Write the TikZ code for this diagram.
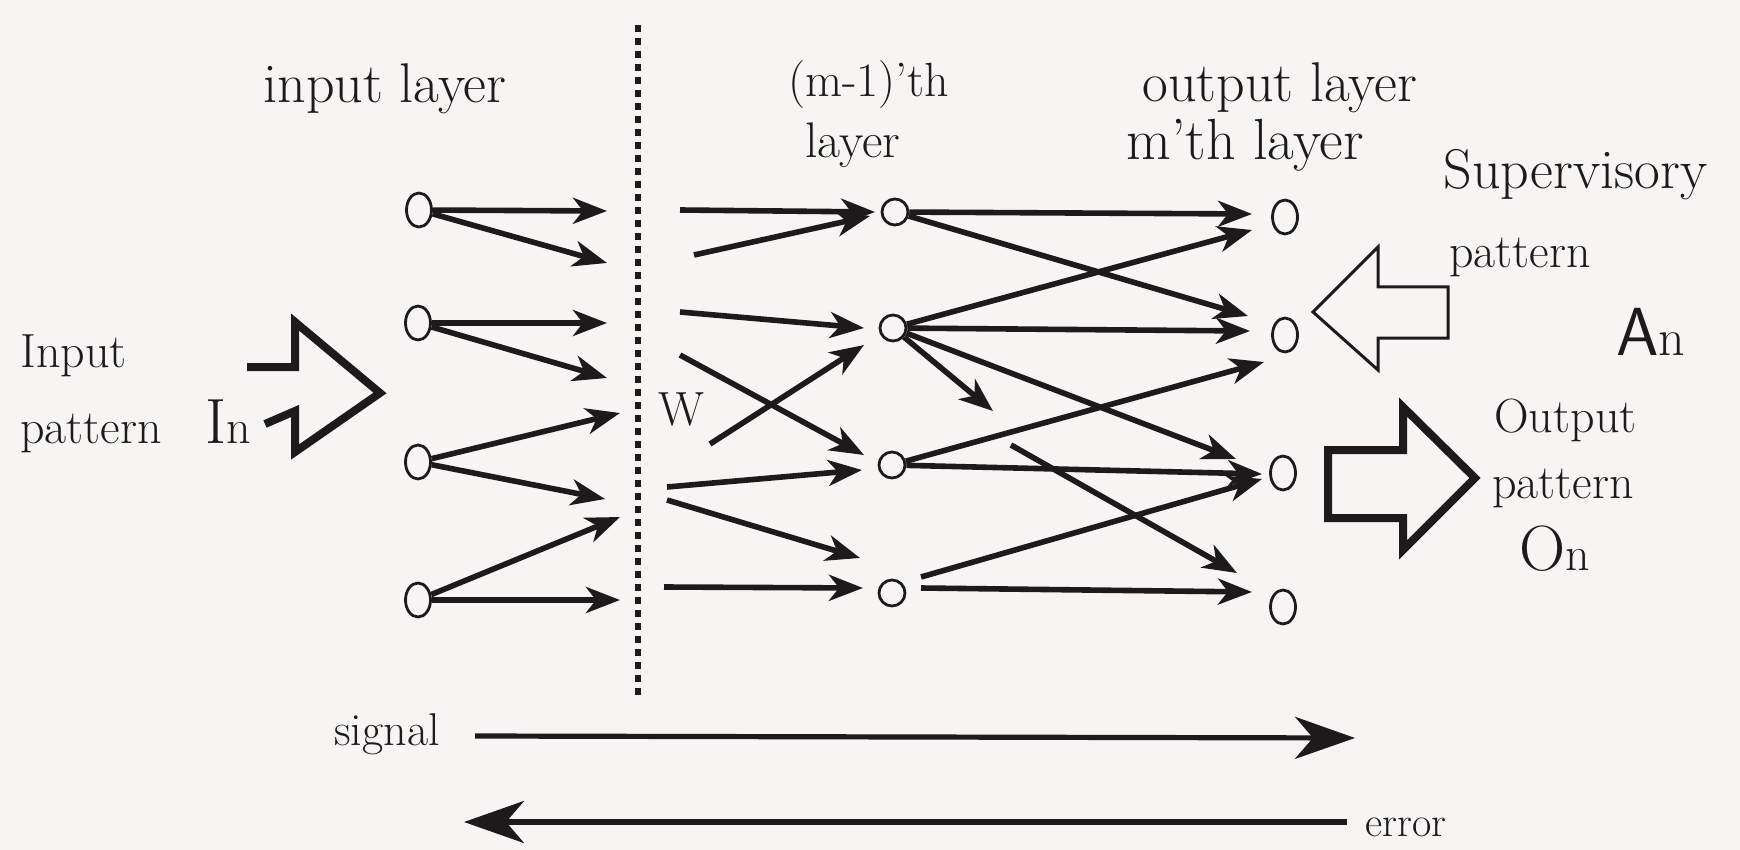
\documentclass[tikz,border=0pt]{standalone}
\usepackage{fontspec}
\usetikzlibrary{arrows.meta,shapes.geometric}
\definecolor{bg}{RGB}{248,244,244}
\definecolor{ink}{RGB}{30,26,28}
\tikzset{
  lbl/.style={inner sep=0pt, anchor=base west, text=ink, font=\fontsize{24}{29}\selectfont},
  big/.style={font=\fontsize{28}{32}\selectfont},
  inode/.style={ellipse, draw=ink, line width=1.4pt, fill=bg, minimum width=12.5pt, minimum height=17pt, inner sep=0pt},
  hnode/.style={circle, draw=ink, line width=1.4pt, fill=bg, minimum size=13pt, inner sep=0pt},
  conn/.style={draw=ink, line width=2.8pt, -{Stealth[length=17pt,width=13pt,inset=5pt]}},
  bigarr/.style={draw=ink, line width=2.6pt, -{Stealth[length=30pt,width=21pt,inset=9pt]}},
  hollowthick/.style={draw=ink, line width=4pt, line join=miter, fill=bg},
  hollowthin/.style={draw=ink, line width=1.5pt, line join=miter, fill=bg},
  dotline/.style={draw=ink, line width=3pt, dash pattern=on 3.5pt off 3pt}
}
\begin{document}
\begin{tikzpicture}[x=0.5pt,y=-0.5pt]
\fill[bg] (0,0) rectangle (1740,850);
\useasboundingbox (0,0) rectangle (1740,850);

% dotted separator
\coordinate (dtop) at (638,25);
\coordinate (dbot) at (638,695);
\draw[dotline] (dtop) -- (dbot);

% nodes
\node[inode] (i1) at (419,210) {};
\node[inode] (i2) at (418,323) {};
\node[inode] (i3) at (418,462) {};
\node[inode] (i4) at (418,600) {};
\node[hnode] (h1) at (895,212) {};
\node[hnode] (h2) at (893,328) {};
\node[hnode] (h3) at (892,465) {};
\node[hnode] (h4) at (892,593) {};
\node[inode] (o1) at (1285,217) {};
\node[inode] (o2) at (1285,335) {};
\node[inode] (o3) at (1283,473) {};
\node[inode] (o4) at (1283,607) {};

% labels
\node[lbl,big] (tIL) at (263,103) {input layer};
\node[lbl] (tM1) at (788,97) {(m-1)'th};
\node[lbl,font=\fontsize{25}{29}\selectfont] (tM2) at (805,158) {layer};
\node[lbl,big] (tO1) at (1142,102) {output layer};
\node[lbl,font=\fontsize{29}{32}\selectfont] (tO2) at (1126,160) {m'th layer};
\node[lbl,font=\fontsize{28}{32}\selectfont] (tS1) at (1443,189) {\addfontfeatures{LetterSpace=15}Supervisory};
\node[lbl] (tS2) at (1449,268) {pattern};
\node[lbl] (tA) at (1616,356) {{\sffamily\fontsize{34}{34}\selectfont A}{\fontsize{26}{26}\selectfont n}};
\node[lbl] (tP1) at (1494,432) {Output};
\node[lbl] (tP2) at (1492,498) {pattern};
\node[lbl] (tOn) at (1519,570) {{\fontsize{32}{32}\selectfont O}n};
\node[lbl] (tI1) at (20,367) {Input};
\node[lbl] (tI2) at (20,443) {pattern};
\node[lbl] (tIn) at (205,443) {{\fontsize{32}{32}\selectfont I}n};
\node[lbl] (tW) at (658,425) {W};
\node[lbl,font=\fontsize{23}{28}\selectfont] (tsig) at (334,745) {signal};
\node[lbl,font=\fontsize{21}{26}\selectfont] (terr) at (1365,836) {error};

% input pattern arrow
\draw[draw=ink, line width=4pt, line join=miter]
  (247,367) -- (295,367) -- (295,322) -- (380,393) -- (295,452) -- (295,411) -- (265,424);
% supervisory pattern arrow
\draw[hollowthin] (1313,312) -- (1378,247) -- (1378,287) -- (1448,287) -- (1448,338) -- (1378,338) -- (1378,370) -- cycle;
% output pattern arrow
\draw[hollowthick] (1328,450) -- (1403,450) -- (1403,407) -- (1475,478) -- (1403,550) -- (1403,518) -- (1328,518) -- cycle;

% input layer connectors
\coordinate (ta1) at (607,211);
\coordinate (ta2) at (607,263);
\coordinate (tb1) at (607,323);
\coordinate (tb2) at (607,378);
\coordinate (tc1) at (620,413);
\coordinate (tc2) at (605,499);
\coordinate (td1) at (620,517);
\coordinate (td2) at (620,600);
\draw[conn] (i1) -- (ta1);
\draw[conn] (i1) -- (ta2);
\draw[conn] (i2) -- (tb1);
\draw[conn] (i2) -- (tb2);
\draw[conn] (i3) -- (tc1);
\draw[conn] (i3) -- (tc2);
\draw[conn] (i4) -- (td1);
\draw[conn] (i4) -- (td2);

% connectors into (m-1)'th layer
\coordinate (s1a) at (680,210); \coordinate (s1b) at (875,212);
\coordinate (s2a) at (694,255); \coordinate (s2b) at (870,216);
\coordinate (s3a) at (680,312); \coordinate (s3b) at (864,328);
\coordinate (s4a) at (680,355); \coordinate (s4b) at (864,455);
\coordinate (s5a) at (710,444); \coordinate (s5b) at (864,345);
\coordinate (s6a) at (667,487); \coordinate (s6b) at (862,470);
\coordinate (s7a) at (667,500); \coordinate (s7b) at (860,558);
\coordinate (s8a) at (664,587); \coordinate (s8b) at (863,588);
\draw[conn] (s1a) -- (s1b);
\draw[conn] (s2a) -- (s2b);
\draw[conn] (s3a) -- (s3b);
\draw[conn] (s4a) -- (s4b);
\draw[conn] (s5a) -- (s5b);
\draw[conn] (s6a) -- (s6b);
\draw[conn] (s7a) -- (s7b);
\draw[conn] (s8a) -- (s8b);

% connectors into output layer
\coordinate (u1) at (1252,214);
\coordinate (u2) at (1248,316);
\coordinate (u3) at (1252,230);
\coordinate (u4) at (1250,331);
\coordinate (u5) at (993,411);
\coordinate (u6) at (1236,459);
\coordinate (u7) at (1264,362);
\coordinate (u8) at (1262,474);
\coordinate (v1) at (921,577); \coordinate (u9) at (1262,479);
\coordinate (v2) at (921,588); \coordinate (u10) at (1252,592);
\coordinate (v3) at (1011,445); \coordinate (u11) at (1237,573);
\draw[conn] (h1) -- (u1);
\draw[conn] (h1) -- (u2);
\draw[conn] (h2) -- (u3);
\draw[conn] (h2) -- (u4);
\draw[conn] (h2) -- (u5);
\draw[conn] (h2) -- (u6);
\draw[conn] (h3) -- (u7);
\draw[conn] (h3) -- (u8);
\draw[conn] (v1) -- (u9);
\draw[conn] (v2) -- (u10);
\draw[conn] (v3) -- (u11);

% signal / error
\coordinate (sg1) at (475,736); \coordinate (sg2) at (1355,738);
\coordinate (er1) at (1347,822); \coordinate (er2) at (464,822);
\draw[bigarr] (sg1) -- (sg2);
\draw[bigarr] (er1) -- (er2);
\end{tikzpicture}
\end{document}
